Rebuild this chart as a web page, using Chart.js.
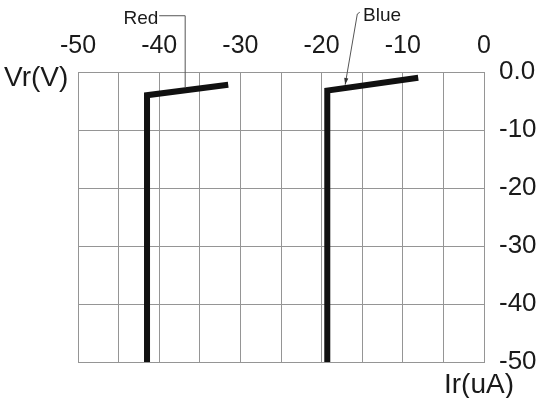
<!DOCTYPE html>
<html lang="en">
<head>
  <meta charset="UTF-8" />
  <title>Vr - Ir</title>
  <script src="https://cdn.jsdelivr.net/npm/chart.js"></script>
  <style>
    html, body { margin: 0; padding: 0; background: #fff; }
    .wrap { width: 543px; height: 398px; }
  </style>
</head>
<body>
  <div class="wrap"><canvas id="vrir"></canvas></div>

  <script>
    // reverse characteristic
    const redIr = [-41.5, -41.5, -31.5];
    const redVr = [-50, -4.0, -2.2];
    const blueIr = [-19.3, -19.3, -8.1];
    const blueVr = [-50, -3.2, -1.0];

    const irTicks = [-50, -40, -30, -20, -10, 0];
    const vrTicks = [0, -10, -20, -30, -40, -50];
    const vrLabels = ['0.0', '-10', '-20', '-30', '-40', '-50'];

    const pts = (xs, ys) => xs.map((x, i) => ({ x: x, y: ys[i] }));

    const FONT = '"Liberation Sans", Arial, sans-serif';
    const INK = '#1a1a1a';
    const GRID = '#959595';

    // callouts "Red" / "Blue", positioned in data units
    const notes = {
      id: 'notes',
      afterDraw(chart) {
        const c = chart.ctx, sx = chart.scales.x, sy = chart.scales.y;
        const P = (x, y) => [sx.getPixelForValue(x), sy.getPixelForValue(y)];
        c.save();
        c.strokeStyle = '#555';
        c.lineWidth = 1;

        // Red leader
        let a = P(-40, 9.7), b = P(-36.8, 9.7), e = P(-36.8, -2.7);
        c.beginPath(); c.moveTo(a[0], a[1]); c.lineTo(b[0], b[1]); c.lineTo(e[0], e[1]); c.stroke();

        // Blue leader with arrow
        a = P(-15.3, 10.3); b = P(-15.6, 10.0); e = P(-17.1, -2.2);
        c.beginPath(); c.moveTo(a[0], a[1]); c.lineTo(b[0], b[1]); c.lineTo(e[0], e[1]); c.stroke();
        const ang = Math.atan2(e[1] - b[1], e[0] - b[0]);
        c.fillStyle = '#333';
        c.beginPath();
        c.moveTo(e[0], e[1]);
        c.lineTo(e[0] - 7 * Math.cos(ang - 0.3), e[1] - 7 * Math.sin(ang - 0.3));
        c.lineTo(e[0] - 7 * Math.cos(ang + 0.3), e[1] - 7 * Math.sin(ang + 0.3));
        c.closePath(); c.fill();

        c.fillStyle = INK;
        c.font = '19px ' + FONT;
        c.textBaseline = 'middle';
        let t = P(-40.1, 9.2);
        c.textAlign = 'right'; c.fillText('Red', t[0], t[1]);
        t = P(-14.9, 9.7);
        c.textAlign = 'left'; c.fillText('Blue', t[0], t[1]);

        // axis titles
        c.font = '28px ' + FONT;
        c.textAlign = 'left';
        c.fillText('Vr(V)', 4, chart.chartArea.top + 6);
        c.fillText('Ir(uA)', 444, chart.chartArea.bottom + 23);
        c.restore();
      }
    };

    new Chart(document.getElementById('vrir'), {
      type: 'scatter',
      data: {
        datasets: [
          { label: 'Red', data: pts(redIr, redVr) },
          { label: 'Blue', data: pts(blueIr, blueVr) }
        ]
      },
      options: {
        responsive: true,
        maintainAspectRatio: false,
        animation: false,
        showLine: true,
        layout: { padding: { left: 78, bottom: 36, top: 0, right: 0 } },
        elements: {
          line: { borderColor: '#111', borderWidth: 6, borderJoinStyle: 'miter', borderCapStyle: 'butt', tension: 0 },
          point: { radius: 0, hoverRadius: 0 }
        },
        plugins: {
          legend: { display: false },
          tooltip: { enabled: false }
        },
        scales: {
          x: {
            type: 'linear',
            position: 'top',
            min: -50, max: 0,
            afterFit(s) { s.height = 72; },
            grid: { color: GRID, lineWidth: 1, drawTicks: false },
            border: { color: GRID },
            ticks: {
              stepSize: 5,
              padding: 11,
              color: INK,
              font: { family: FONT, size: 25 },
              maxRotation: 0,
              autoSkip: false,
              callback: v => irTicks.includes(v) ? String(v) : ''
            }
          },
          y: {
            type: 'linear',
            position: 'right',
            min: -50, max: 0,
            afterFit(s) { s.width = 59; },
            grid: { color: GRID, lineWidth: 1, drawTicks: false },
            border: { color: GRID },
            ticks: {
              stepSize: 10,
              padding: 15,
              color: INK,
              font: { family: FONT, size: 26 },
              callback: v => {
                const i = vrTicks.indexOf(v);
                return i >= 0 ? vrLabels[i] : '';
              }
            }
          }
        }
      },
      plugins: [notes]
    });
  </script>
</body>
</html>
